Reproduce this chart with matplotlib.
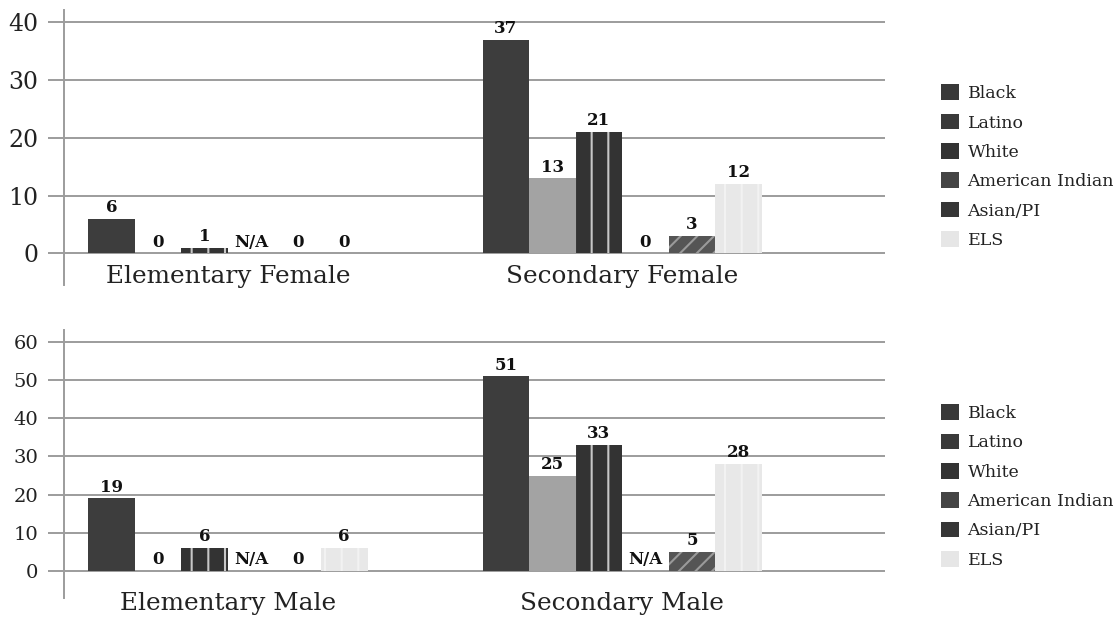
import numpy as np
import matplotlib.pyplot as plt
from matplotlib.patches import Patch

plt.rcParams['font.family'] = ['DejaVu Serif']
plt.rcParams['hatch.linewidth'] = 1.5

# Data (None = N/A)
series = ['Black', 'Latino', 'White', 'American Indian', 'Asian/PI', 'ELS']
female_groups = ['Elementary Female', 'Secondary Female']
female_values = [
    [6, 37],      # Black
    [0, 13],      # Latino
    [1, 21],      # White
    [None, 0],    # American Indian
    [0, 3],       # Asian/PI
    [0, 12],      # ELS
]
male_groups = ['Elementary Male', 'Secondary Male']
male_values = [
    [19, 51],
    [0, 25],
    [6, 33],
    [None, None],
    [0, 5],
    [6, 28],
]

# bar styles: face, hatch colour, hatch
styles = [
    ('#3d3d3d', '#4a4a4a', ''),
    ('#a3a3a3', '#a8a8a8', ''),
    ('#333333', '#c8c8c8', '|'),
    ('#3a3a3a', '#777777', '....'),
    ('#555555', '#9a9a9a', '//'),
    ('#e8e8e8', '#f2f2f2', '|'),
]
legend_faces = ['#383838', '#3a3a3a', '#333333', '#444444', '#363636', '#e6e6e6']

grid_col = '#9c9c9c'
width = 0.118

fig = plt.figure(figsize=(11.19, 6.2), dpi=100)


def draw(ax, groups, values, yticks, ylim, tick_fs, cat_y, legend_y):
    x = np.arange(len(groups))
    for i, name in enumerate(series):
        vals = values[i]
        h = [0 if v is None else v for v in vals]
        face, hc, hatch = styles[i]
        xs = x + (i - 2.5) * width
        ax.bar(xs, h, width, color=face, edgecolor=hc, linewidth=0,
               hatch=hatch, zorder=3)
        for xx, v in zip(xs, vals):
            txt = 'N/A' if v is None else str(v)
            ax.annotate(txt, (xx, 0 if v is None else v), xytext=(0, 2),
                        textcoords='offset points', ha='center', va='bottom',
                        fontsize=12, fontweight='bold', color='#111111',
                        zorder=4)
    ax.set_xlim(-0.416, 1.667)
    ax.set_ylim(*ylim)
    ax.set_yticks(yticks)
    ax.set_yticklabels([str(t) for t in yticks], fontsize=tick_fs, color='#222222')
    ax.set_xticks([])
    ax.grid(axis='y', color=grid_col, linewidth=1.4, zorder=0)
    ax.tick_params(axis='y', length=11.5, width=1.4, color=grid_col, pad=7)
    for s in ['top', 'right', 'bottom']:
        ax.spines[s].set_visible(False)
    ax.spines['left'].set_color(grid_col)
    ax.spines['left'].set_linewidth(1.4)
    for xx, g in zip(x, groups):
        ax.text(xx, cat_y, g, ha='center', va='center', fontsize=17.8,
                color='#222222', clip_on=False)
    handles = [Patch(facecolor=legend_faces[i], edgecolor='none') for i in range(len(series))]
    fig.legend(handles, series, loc='upper left', bbox_to_anchor=(0.827, legend_y),
               frameon=False, fontsize=12.5, handlelength=1.03, handleheight=1.0,
               handletextpad=0.5, labelspacing=0.67, labelcolor='#222222')


ax1 = fig.add_axes([0.0572, 0.540, 0.7337, 0.4435])
draw(ax1, female_groups, female_values, [0, 10, 20, 30, 40], (-5.5, 42.1), 17, -4.0, 0.889)

ax2 = fig.add_axes([0.0572, 0.0355, 0.7337, 0.432])
draw(ax2, male_groups, male_values, [0, 10, 20, 30, 40, 50, 60], (-7.07, 63.1), 14, -8.4, 0.373)

fig.savefig('out.png', dpi=100)
